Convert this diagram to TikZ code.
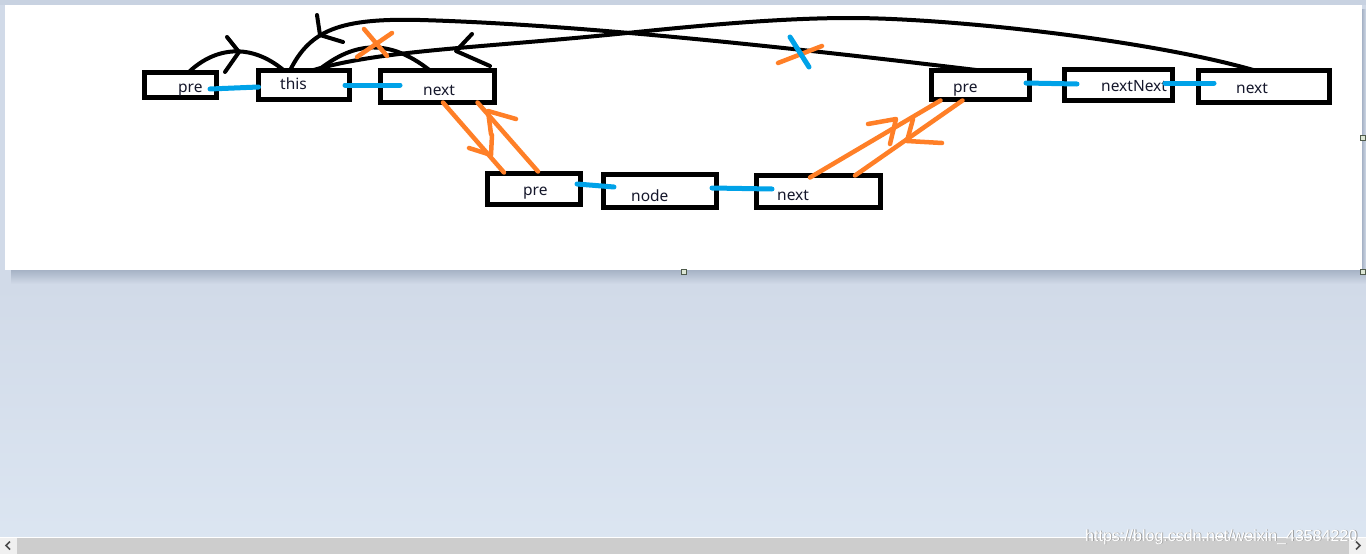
\documentclass[tikz,border=0pt]{standalone}
\usepackage{fontspec}
\setmainfont{Noto Sans}
\newfontfamily\marksans{Liberation Sans}
\usepackage{tikz}
\usetikzlibrary{calc}
\definecolor{paintblue}{HTML}{00A2E8}
\definecolor{paintorange}{HTML}{FF7F27}
\definecolor{labelink}{HTML}{15172B}
\definecolor{deskedge}{HTML}{C8D2E1}
\definecolor{desktop}{HTML}{D1DAE8}
\definecolor{deskbottom}{HTML}{DCE6F2}
\definecolor{shadowline}{HTML}{A6B2C5}
\definecolor{barfill}{HTML}{CDCDCD}
\definecolor{barbutton}{HTML}{F0F0F0}
\definecolor{handleline}{HTML}{4F5B4B}
\definecolor{handlefill}{HTML}{DCE6D4}
\tikzset{
  cell/.style 2 args={draw=black, line width=5pt, minimum width=#1, minimum height=#2,
                      inner sep=0pt, outer sep=0pt},
  word/.style={font=\fontsize{15.5}{18}\selectfont, text=labelink, inner sep=0pt, anchor=base west},
  pen/.style={draw=black, line width=4pt, line cap=round, line join=round},
  link/.style={draw=paintblue, line width=5pt, line cap=round},
  hilite/.style={draw=paintorange, line width=4.5pt, line cap=round, line join=round},
  handle/.style={draw=handleline, fill=handlefill, line width=1pt},
}
\begin{document}
\begin{tikzpicture}[x=1pt,y=-1pt]
  \useasboundingbox (0,0) rectangle (1366,554);
  % window
  \fill[desktop] (0,0) rectangle (1366,554);
  \shade[top color=desktop, bottom color=deskbottom] (0,283) rectangle (1366,554);
  \fill[deskedge] (0,0) rectangle (1366,5);
  \shade[top color=shadowline, bottom color=desktop] (11,270) rectangle (1366,284);
  \shade[left color=shadowline, right color=desktop] (1362,9) rectangle (1366,270);
  \fill[white] (5,5) rectangle (1362,270);
  \foreach \hx/\hy in {684/272, 1363/138, 1363/272}
    \draw[handle] (\hx-2.5,\hy-2.5) rectangle (\hx+2.5,\hy+2.5);
  % top left cells
  \node[cell={72}{25}] (lpre) at (180.5,85) {};
  \node[cell={91}{29}] (lthis) at (304,85) {};
  \node[cell={114}{32}] (lnext) at (437.5,86.5) {};
  % middle cells
  \node[cell={93}{31}] (mpre) at (534,189) {};
  \node[cell={113}{33}] (mnode) at (660,191) {};
  \node[cell={124}{32}] (mnext) at (818.5,191.5) {};
  % top right cells
  \node[cell={98}{29}] (rpre) at (980.5,85) {};
  \node[cell={108}{31}] (rnn) at (1118.5,85) {};
  \node[cell={131}{32}] (rnext) at (1264,86.5) {};
  % words
  \node[word] (lpre-w) at (178,92) {pre};
  \node[word] (lthis-w) at (280,89) {this};
  \node[word] (lnext-w) at (423,95) {next};
  \node[word] (mpre-w) at (523,195) {pre};
  \node[word] (mnode-w) at (631,201) {node};
  \node[word] (mnext-w) at (777,200) {next};
  \node[word] (rpre-w) at (953,92) {pre};
  \node[word] (rnn-w) at (1101,91) {nextNext};
  \node[word] (rnext-w) at (1236,93) {next};
  % blue links
  \draw[link] ([xshift=-6.5pt,yshift=-4pt]lpre.east) -- ([yshift=-2pt]lthis.west);
  \draw[link] ([xshift=-4.5pt]lthis.east) -- ([xshift=19.5pt,yshift=1.5pt]lnext.west);
  \draw[link] ([xshift=-3.5pt,yshift=5pt]mpre.east) -- ([xshift=10.5pt,yshift=4pt]mnode.west);
  \draw[link] ([xshift=-4.5pt,yshift=3pt]mnode.east) -- ([xshift=15.5pt,yshift=2.5pt]mnext.west);
  \draw[link] ([xshift=-3.5pt,yshift=2pt]rpre.east) -- ([xshift=12.5pt,yshift=1pt]rnn.west);
  \draw[link] ([xshift=-7.5pt,yshift=2pt]rnn.east) -- ([xshift=15.5pt,yshift=3.5pt]rnext.west);
  % black pointers
  \draw[pen] ([xshift=9.5pt,yshift=1.5pt]lpre.north) .. controls (215,48) and (250,42) .. ([xshift=-20pt]lthis.north);
  \draw[pen] (227,37) -- (239,52) -- (225,72);
  \draw[pen] ([xshift=-14pt]lthis.north) .. controls (310,30) and (340,18) .. (420,20)
    .. controls (600,25) and (850,55) .. (rpre.north);
  \draw[pen] (317,15) -- (320,35) -- (343,42);
  \draw[pen] ([xshift=8pt]lthis.north) .. controls (380,50) and (480,48) .. (627,33)
    .. controls (700,25.5) and (780,18) .. (850,18)
    .. controls (950,18) and (1150,40) .. ([xshift=-9pt]rnext.north);
  \draw[pen] (472,34) -- (456,51) -- (490,66);
  \draw[pen] ([xshift=14pt]lthis.north) .. controls (350,45) and (385,35) .. ([xshift=-7.5pt]lnext.north);
  % orange pointers
  \draw[hilite] ([xshift=5.5pt]lnext.south) -- ([xshift=-30pt,yshift=1pt]mpre.north);
  \draw[hilite] (469,148) -- (491,155) -- (492,135);
  \draw[hilite] ([xshift=4pt,yshift=2pt]mpre.north) -- ([xshift=40pt]lnext.south);
  \draw[hilite] (516,119) -- (488,111) -- (491,134);
  \draw[hilite] ([xshift=-8.5pt,yshift=-2pt]mnext.north) -- ([xshift=-40pt,yshift=-1pt]rpre.south);
  \draw[hilite] (868,124) -- (896,119) -- (890,144);
  \draw[hilite] ([xshift=36.5pt]mnext.north) -- ([xshift=-18pt,yshift=-1pt]rpre.south);
  \draw[hilite] (913,119) -- (907,141) -- (942,143);
  % cuts
  \draw[hilite] (357,57) -- (392,33) (364,29) -- (387,56);
  \draw[hilite] (778,63) -- (822,46);
  \draw[link] (790,37) -- (809,67);
  % scrollbar
  \fill[barfill] (0,537) rectangle (1366,554);
  \draw[white, line width=1pt] (0,537) -- (1366,537);
  \fill[barbutton] (0,538) rectangle (17,554);
  \fill[barbutton] (1349,538) rectangle (1366,554);
  \draw[gray!60!black, line width=1.5pt] (10,541.5) -- (6,545.5) -- (10,549.5);
  \draw[gray!60!black, line width=1.5pt] (1356,541.5) -- (1360,545.5) -- (1356,549.5);
  % watermark
  \node[anchor=base west, inner sep=0pt, font=\marksans\fontsize{16}{18}\selectfont, text=gray!80]
    (mark-s) at (1085.8,541.8) {https://blog.csdn.net/weixin\_43584220};
  \node[anchor=base west, inner sep=0pt, font=\marksans\fontsize{16}{18}\selectfont, text=white]
    (mark-w) at (1085,541) {https://blog.csdn.net/weixin\_43584220};
\end{tikzpicture}
\end{document}
